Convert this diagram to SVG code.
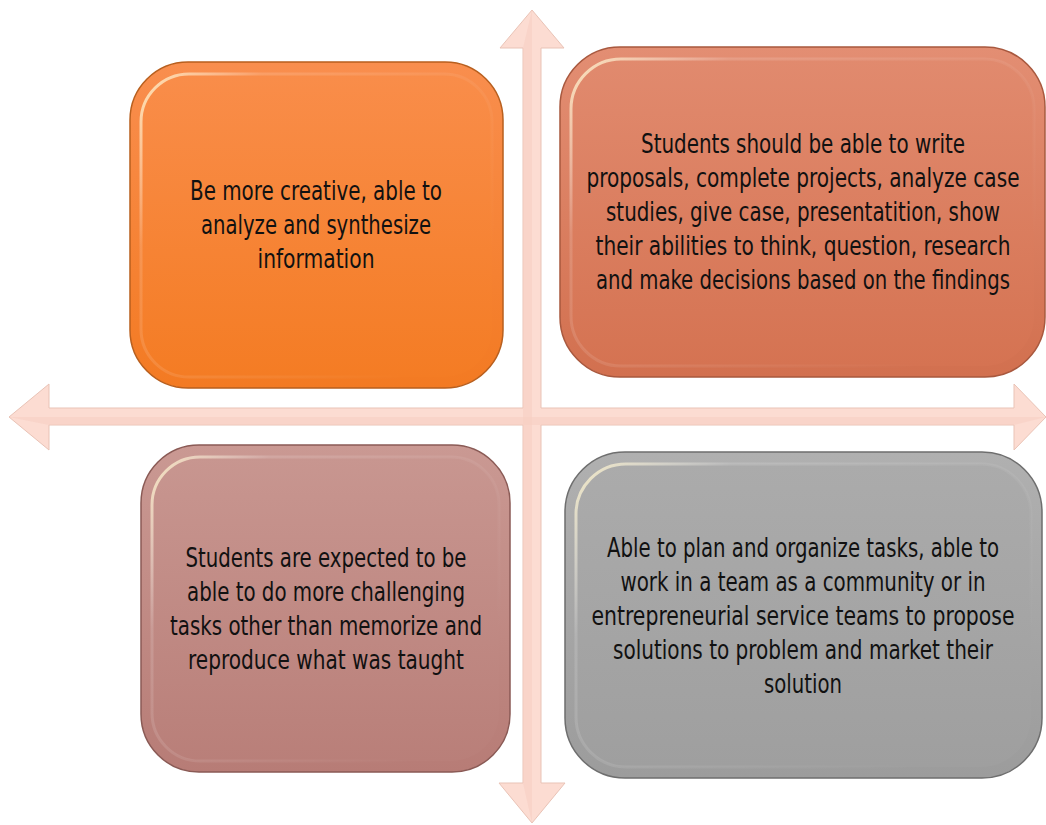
<svg xmlns="http://www.w3.org/2000/svg" width="1046" height="825" viewBox="0 0 1046 825">
<defs>
<style>
.arrow{fill:#FCDCD2;stroke:#E9C3B6;stroke-width:1}
.shade{fill:#F6CFC3;opacity:0.6}
.txt{font-family:"DejaVu Sans","Liberation Sans",sans-serif;font-stretch:condensed;font-size:21px;fill:#111;text-anchor:middle}
.hl{fill:none;stroke:url(#gHl);stroke-width:3}
</style>
<linearGradient id="gHl" x1="0" y1="0" x2="1" y2="0.6"><stop offset="0" stop-color="#FFF3C8" stop-opacity="0.85"/><stop offset="0.25" stop-color="#FFFFFF" stop-opacity="0.15"/><stop offset="1" stop-color="#FFFFFF" stop-opacity="0"/></linearGradient>
<linearGradient id="gOr" x1="0" y1="0" x2="0" y2="1"><stop offset="0" stop-color="#F98E4E"/><stop offset="1" stop-color="#F37A22"/></linearGradient>
<linearGradient id="gOrIn" x1="0" y1="0" x2="0" y2="1"><stop offset="0" stop-color="#F98D4A"/><stop offset="1" stop-color="#F47C24"/></linearGradient>
<linearGradient id="gSa" x1="0" y1="0" x2="0" y2="1"><stop offset="0" stop-color="#E38E73"/><stop offset="1" stop-color="#D2704F"/></linearGradient>
<linearGradient id="gSaIn" x1="0" y1="0" x2="0" y2="1"><stop offset="0" stop-color="#E18A6E"/><stop offset="1" stop-color="#D57352"/></linearGradient>
<linearGradient id="gRo" x1="0" y1="0" x2="0" y2="1"><stop offset="0" stop-color="#CA9993"/><stop offset="1" stop-color="#B77C76"/></linearGradient>
<linearGradient id="gRoIn" x1="0" y1="0" x2="0" y2="1"><stop offset="0" stop-color="#C89690"/><stop offset="1" stop-color="#B97F79"/></linearGradient>
<linearGradient id="gGr" x1="0" y1="0" x2="0" y2="1"><stop offset="0" stop-color="#B0B0B0"/><stop offset="1" stop-color="#9C9C9C"/></linearGradient>
<linearGradient id="gGrIn" x1="0" y1="0" x2="0" y2="1"><stop offset="0" stop-color="#ABABAB"/><stop offset="1" stop-color="#9F9F9F"/></linearGradient>
</defs>

<g id="connectors">
<polygon class="arrow" points="532,10 564,48 541,48 541,408 1014,408 1014,384 1046,417 1014,450 1014,425 541,425 541,783 565,783 532,823 499,783 523,783 523,425 49,425 49,450 9,417 49,384 49,408 523,408 523,48 500,48"/>
<polygon class="shade" points="532,10 532,823 523,783 523,425 523,48"/>
<polygon class="shade" points="9,417 1046,417 1014,425 541,425 49,425"/>
</g>

<g id="node-tl">
<rect x="130" y="62" width="373" height="326" rx="58" fill="url(#gOr)" stroke="#B85F1E" stroke-width="1.5"/>
<rect x="141" y="74" width="351" height="303" rx="48" fill="url(#gOrIn)"/>
<rect x="141" y="74" width="351" height="303" rx="48" class="hl"/>
<text class="txt" transform="translate(0,200) scale(1,1.3)"><tspan x="316" y="0" textLength="252" lengthAdjust="spacingAndGlyphs">Be more creative, able to</tspan><tspan x="316" y="26.15" textLength="230" lengthAdjust="spacingAndGlyphs">analyze and synthesize</tspan><tspan x="316" y="52.3" textLength="117" lengthAdjust="spacingAndGlyphs">information</tspan></text>
</g>

<g id="node-tr">
<rect x="560" y="47" width="485" height="330" rx="60" fill="url(#gSa)" stroke="#A8583E" stroke-width="1.5"/>
<rect x="571" y="59" width="463" height="307" rx="50" fill="url(#gSaIn)"/>
<rect x="571" y="59" width="463" height="307" rx="50" class="hl"/>
<text class="txt" transform="translate(0,153) scale(1,1.3)"><tspan x="803" y="0" textLength="324" lengthAdjust="spacingAndGlyphs">Students should be able to write</tspan><tspan x="803" y="26.5" textLength="433" lengthAdjust="spacingAndGlyphs">proposals, complete projects, analyze case</tspan><tspan x="803" y="52.7" textLength="394" lengthAdjust="spacingAndGlyphs">studies, give case, presentatition, show</tspan><tspan x="803" y="78.5" textLength="415" lengthAdjust="spacingAndGlyphs">their abilities to think, question, research</tspan><tspan x="803" y="104.6" textLength="414" lengthAdjust="spacingAndGlyphs">and make decisions based on the findings</tspan></text>
</g>

<g id="node-bl">
<rect x="141" y="445" width="369" height="327" rx="58" fill="url(#gRo)" stroke="#8A5A55" stroke-width="1.5"/>
<rect x="152" y="457" width="347" height="304" rx="48" fill="url(#gRoIn)"/>
<rect x="152" y="457" width="347" height="304" rx="48" class="hl"/>
<text class="txt" transform="translate(0,567) scale(1,1.3)"><tspan x="326" y="0" textLength="281" lengthAdjust="spacingAndGlyphs">Students are expected to be</tspan><tspan x="326" y="26.15" textLength="278" lengthAdjust="spacingAndGlyphs">able to do more challenging</tspan><tspan x="326" y="52.3" textLength="312" lengthAdjust="spacingAndGlyphs">tasks other than memorize and</tspan><tspan x="326" y="78.5" textLength="276" lengthAdjust="spacingAndGlyphs">reproduce what was taught</tspan></text>
</g>

<g id="node-br">
<rect x="565" y="452" width="477" height="326" rx="60" fill="url(#gGr)" stroke="#6E6E6E" stroke-width="1.5"/>
<rect x="576" y="464" width="455" height="303" rx="50" fill="url(#gGrIn)"/>
<rect x="576" y="464" width="455" height="303" rx="50" class="hl"/>
<text class="txt" transform="translate(0,557) scale(1,1.3)"><tspan x="803" y="0" textLength="392" lengthAdjust="spacingAndGlyphs">Able to plan and organize tasks, able to</tspan><tspan x="803" y="26.15" textLength="365" lengthAdjust="spacingAndGlyphs">work in a team as a community or in</tspan><tspan x="803" y="52.3" textLength="423" lengthAdjust="spacingAndGlyphs">entrepreneurial service teams to propose</tspan><tspan x="803" y="78.5" textLength="380" lengthAdjust="spacingAndGlyphs">solutions to problem and market their</tspan><tspan x="803" y="104.6" textLength="78" lengthAdjust="spacingAndGlyphs">solution</tspan></text>
</g>
</svg>
